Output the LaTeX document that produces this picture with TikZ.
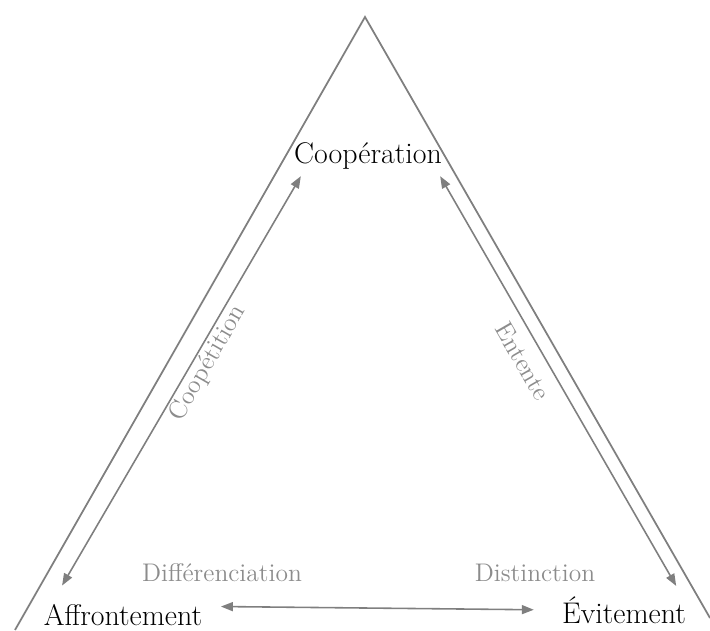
\documentclass[tikz,border=0pt]{standalone}
\usepackage{tikz}
\usetikzlibrary{arrows.meta}
\definecolor{trait}{HTML}{7F7F7F}
\definecolor{etiq}{HTML}{8C8C8C}
\begin{document}
\begin{tikzpicture}[
  pole/.style={font=\fontsize{17}{20}\selectfont, inner sep=0pt},
  lien/.style={font=\fontsize{14.5}{17}\selectfont, text=etiq, inner sep=0pt},
  fleche/.style={{Triangle[length=2.4mm,width=1.8mm]}-{Triangle[length=2.4mm,width=1.8mm]}, draw=trait, line width=0.9pt}
]
\useasboundingbox (0,0) rectangle (14.2,12.6);
\coordinate (sommet) at (7.30,12.26);
\coordinate (baseG) at (0.30,0);
\coordinate (baseD) at (14.20,0.24);
\draw[trait, line width=1pt] (baseG) -- (sommet) -- (baseD);
\node[pole, anchor=base] (coop) at (7.36,9.34) {Coopération};
\node[pole, anchor=base] (aff) at (2.46,0.10) {Affrontement};
\node[pole, anchor=base] (evit) at (12.48,0.14) {Évitement};
\draw[fleche] ([shift={(0.14,-0.14)}]coop.south west) -- ([shift={(0.37,0.36)}]aff.north west);
\draw[fleche] ([shift={(-0.04,-0.14)}]coop.south east) -- ([shift={(-0.20,0.20)}]evit.north east);
\draw[fleche] ([shift={(0.37,-0.06)}]aff.north east) -- ([xshift=-0.56cm]evit.west);
\node[lien, rotate=60] (coopet) at (4.16,5.34) {Coopétition};
\node[lien, rotate=-60] (entente) at (10.46,5.38) {Entente};
\node[lien] (diff) at (4.44,1.14) {Différenciation};
\node[lien] (dist) at (10.70,1.14) {Distinction};
\end{tikzpicture}
\end{document}
